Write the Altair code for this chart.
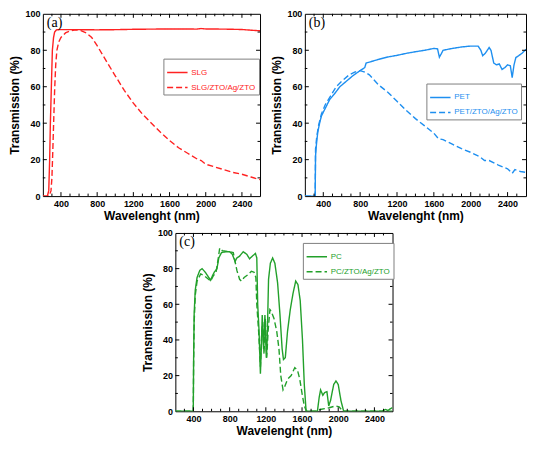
import altair as alt
import pandas as pd

# ---------------- data ----------------
slg_wl = [200, 250, 265, 275, 283, 295, 305, 318, 330, 350, 380, 450, 600, 800, 1000, 1200, 1400,
          1600, 1800, 1900, 1950, 2000, 2200, 2400, 2500, 2600]
slg_t = [0, 0, 3, 20, 40, 62, 80, 87, 90, 91.2, 91.3, 91.3, 91.3, 91.2, 91.3, 91.5, 91.6,
         91.7, 91.7, 91.6, 91.9, 91.7, 91.6, 91.4, 91.0, 90.7]

slgc_wl = [200, 270, 290, 300, 310, 319, 330, 342, 355, 375, 400, 450, 500, 560, 620, 680, 740,
           800, 860, 920, 1000, 1100, 1200, 1300, 1400, 1500, 1600, 1700, 1800, 1900, 1950,
           2000, 2100, 2200, 2300, 2400, 2500, 2600]
slgc_t = [0, 0, 3, 10, 25, 40, 58, 72, 80, 84.5, 87, 89.5, 90.6, 91.2, 90.8, 89.5, 87,
          82.5, 77.5, 72.5, 66, 58, 51, 45, 40, 35, 30.5, 26.5, 23.5, 20.5, 19.5,
          17.5, 16, 14.5, 13, 12, 10.5, 9]

pet_wl = [200, 300, 312, 316, 325, 340, 360, 380, 420, 470, 520, 580, 650, 720, 790, 850, 865,
          900, 1000, 1100, 1200, 1300, 1400, 1500, 1600, 1640, 1660, 1680, 1700, 1800, 1900,
          2000, 2080, 2110, 2130, 2160, 2200, 2220, 2250, 2280, 2310, 2340, 2370, 2400, 2430,
          2450, 2470, 2490, 2520, 2560, 2600]
pet_t = [0, 0, 0, 22, 28, 35, 40, 44, 48, 53, 56, 60, 63, 66, 68.5, 70.5, 73,
         73.5, 75, 76.3, 77.2, 78.3, 79.2, 80, 81, 80.8, 76.2, 78, 80, 81, 81.8,
         82.3, 82.3, 80, 77, 78.5, 81.5, 80, 73, 72, 72.5, 69.5, 70.5, 72, 71.5,
         65, 72, 76, 77, 78.5, 80.5]

petc_wl = [200, 312, 316, 330, 350, 380, 420, 480, 540, 600, 680, 740, 800, 850, 900, 1000,
           1100, 1200, 1300, 1400, 1500, 1600, 1650, 1700, 1800, 1900, 2000, 2100, 2150, 2200,
           2300, 2400, 2450, 2480, 2540, 2600]
petc_t = [0, 0, 26, 33, 39, 45, 50, 55, 60, 63, 66.5, 68, 68.8, 68, 66.5, 61,
          57, 52, 47, 42.5, 38.5, 34.5, 31.5, 31, 28.5, 26, 24, 21.5, 19.5, 19.5,
          17, 15, 12.5, 14.5, 13.5, 13]

pc_wl = [200, 398, 402, 408, 420, 440, 470, 495, 530, 570, 590, 610, 630, 660, 680, 710, 760,
         800, 830, 860, 880, 910, 950, 990, 1020, 1050, 1085, 1100, 1110, 1125, 1140, 1150,
         1160, 1175, 1190, 1205, 1215, 1230, 1250, 1275, 1300, 1330, 1355, 1380, 1395, 1415,
         1440, 1470, 1500, 1530, 1555, 1580, 1605, 1625, 1645, 1770, 1790, 1805, 1830, 1850,
         1875, 1895, 1915, 1950, 1975, 2000, 2030, 2060, 2480, 2520, 2550, 2580, 2600]
pc_t = [0, 0, 30, 55, 68, 75, 79, 80, 78, 75, 73.5, 76, 78, 80, 86, 89, 89.5,
        89.5, 88, 84, 86, 87, 89.5, 88, 85.5, 87, 88.5, 86, 60, 45, 21, 35,
        54, 35, 54, 30, 40, 74, 83, 86, 83, 72, 55, 35, 29, 30,
        45, 57, 66, 73, 71, 62, 40, 15, 0, 0, 8, 12, 9, 10.5,
        11, 3, 6, 15, 17, 15, 6, 0, 0, 1, 0.5, 1.5, 2]

pcc_wl = [200, 398, 402, 408, 420, 440, 480, 520, 590, 620, 650, 675, 690, 720, 800, 840, 860,
          880, 910, 930, 960, 1000, 1040, 1070, 1090, 1100, 1120, 1140, 1155, 1165, 1180, 1195,
          1210, 1225, 1245, 1260, 1290, 1320, 1345, 1365, 1390, 1410, 1440, 1480, 1520, 1550,
          1575, 1600, 1625, 1650, 1760, 1800, 1850, 1900, 1970, 2010, 2050, 2600]
pcc_t = [0, 0, 28, 50, 65, 73, 77, 76, 73, 76, 78, 86, 91.5, 90, 89.5, 89, 84,
         79, 74, 73, 75, 76.5, 78.5, 78, 75, 60, 45, 25, 45, 50, 32, 52,
         30, 45, 57, 56, 52, 45, 35, 20, 12, 14, 18, 20, 24.5, 23,
         18, 10, 3, 0, 0, 1, 1.5, 2, 3, 2.5, 0, 0]

x_major = [400, 800, 1200, 1600, 2000, 2400]
x_minor = [300, 500, 600, 700, 900, 1000, 1100, 1300, 1400, 1500, 1700, 1800, 1900,
           2100, 2200, 2300, 2500]
y_labels = [0, 20, 40, 60, 80, 100]
y_major = [20, 40, 60, 80]
y_minor = [10, 30, 50, 70, 90]

FONT = "Liberation Sans"


def series_df(pairs):
    frames = []
    for name, wl, t in pairs:
        frames.append(pd.DataFrame({"wl": wl, "T": t, "series": name}))
    return pd.concat(frames, ignore_index=True)


def panel(pairs, color, label, W, H, lx, ly):
    names = [p[0] for p in pairs]
    df = series_df(pairs)
    xs = alt.Scale(domain=[200, 2600], nice=False, zero=False)
    ys = alt.Scale(domain=[0, 100], nice=False, zero=True)
    xa = alt.Axis(values=x_major, format="d", title="Wavelenght (nm)", labelPadding=3,
                  titlePadding=2)
    ya = alt.Axis(values=y_labels, format="d", title="Transmission (%)", labelPadding=3,
                  titlePadding=3)
    leg = alt.Legend(title=None, orient="none", legendX=lx, legendY=ly,
                     symbolType="stroke", symbolSize=420, symbolStrokeWidth=1.5,
                     labelFont=FONT, labelFontSize=8, labelColor=color,
                     strokeColor="#808080", fillColor="white", padding=3,
                     rowPadding=-9, labelOffset=3)
    lines = alt.Chart(df).mark_line(strokeWidth=1.4, clip=True).encode(
        x=alt.X("wl:Q", scale=xs, axis=xa),
        y=alt.Y("T:Q", scale=ys, axis=ya),
        color=alt.Color("series:N", scale=alt.Scale(domain=names, range=[color, color]),
                        legend=leg),
        strokeDash=alt.StrokeDash("series:N",
                                  scale=alt.Scale(domain=names, range=[[1, 0], [6, 3]]),
                                  legend=leg),
    )
    layers = [lines]
    for vals, ln in ((x_major, 4), (x_minor, 2.5)):
        tdf = pd.DataFrame({"wl": vals})
        layers.append(alt.Chart(tdf).mark_rule(color="black", strokeWidth=1).encode(
            x=alt.X("wl:Q", scale=xs, axis=xa), y=alt.value(H), y2=alt.value(H - ln)))
        layers.append(alt.Chart(tdf).mark_rule(color="black", strokeWidth=1).encode(
            x=alt.X("wl:Q", scale=xs, axis=xa), y=alt.value(0), y2=alt.value(ln)))
    for vals, ln in ((y_major, 4), (y_minor, 2.5)):
        tdf = pd.DataFrame({"T": vals})
        layers.append(alt.Chart(tdf).mark_rule(color="black", strokeWidth=1).encode(
            y=alt.Y("T:Q", scale=ys, axis=ya), x=alt.value(0), x2=alt.value(ln)))
        layers.append(alt.Chart(tdf).mark_rule(color="black", strokeWidth=1).encode(
            y=alt.Y("T:Q", scale=ys, axis=ya), x=alt.value(W), x2=alt.value(W - ln)))
    layers.append(alt.Chart(pd.DataFrame({"k": [0]})).mark_text(
        font="Liberation Serif", fontSize=14, align="left", baseline="top", color="black"
    ).encode(x=alt.value(4), y=alt.value(2), text=alt.value(label)))
    return alt.layer(*layers).properties(width=W, height=H)


pa = panel([("SLG", slg_wl, slg_t), ("SLG/ZTO/Ag/ZTO", slgc_wl, slgc_t)],
           "#ff2222", "(a)", 218, 183, 121, 45)
pb = panel([("PET", pet_wl, pet_t), ("PET/ZTO/Ag/ZTO", petc_wl, petc_t)],
           "#1e8ff0", "(b)", 222, 183, 122, 70)
pc = panel([("PC", pc_wl, pc_t), ("PC/ZTO/Ag/ZTO", pcc_wl, pcc_t)],
           "#22a02a", "(c)", 218, 179, 128, 10)

top = alt.hconcat(pa, pb, spacing=9).resolve_scale(color="independent",
                                                   strokeDash="independent")
chart = alt.vconcat(top, pc, spacing=6, center=True).resolve_scale(
    color="independent", strokeDash="independent"
).configure(
    padding=0, background="white"
).configure_view(
    stroke="black", strokeWidth=1
).configure_axis(
    labelFont=FONT, labelFontSize=9, labelFontWeight="bold", labelColor="black",
    titleFont=FONT, titleFontSize=12, titleFontWeight="bold", titleColor="black",
    ticks=False, tickSize=0, domain=False, grid=False, minExtent=0
)

chart.save("out.html", embed_options={"renderer": "svg", "actions": False})
